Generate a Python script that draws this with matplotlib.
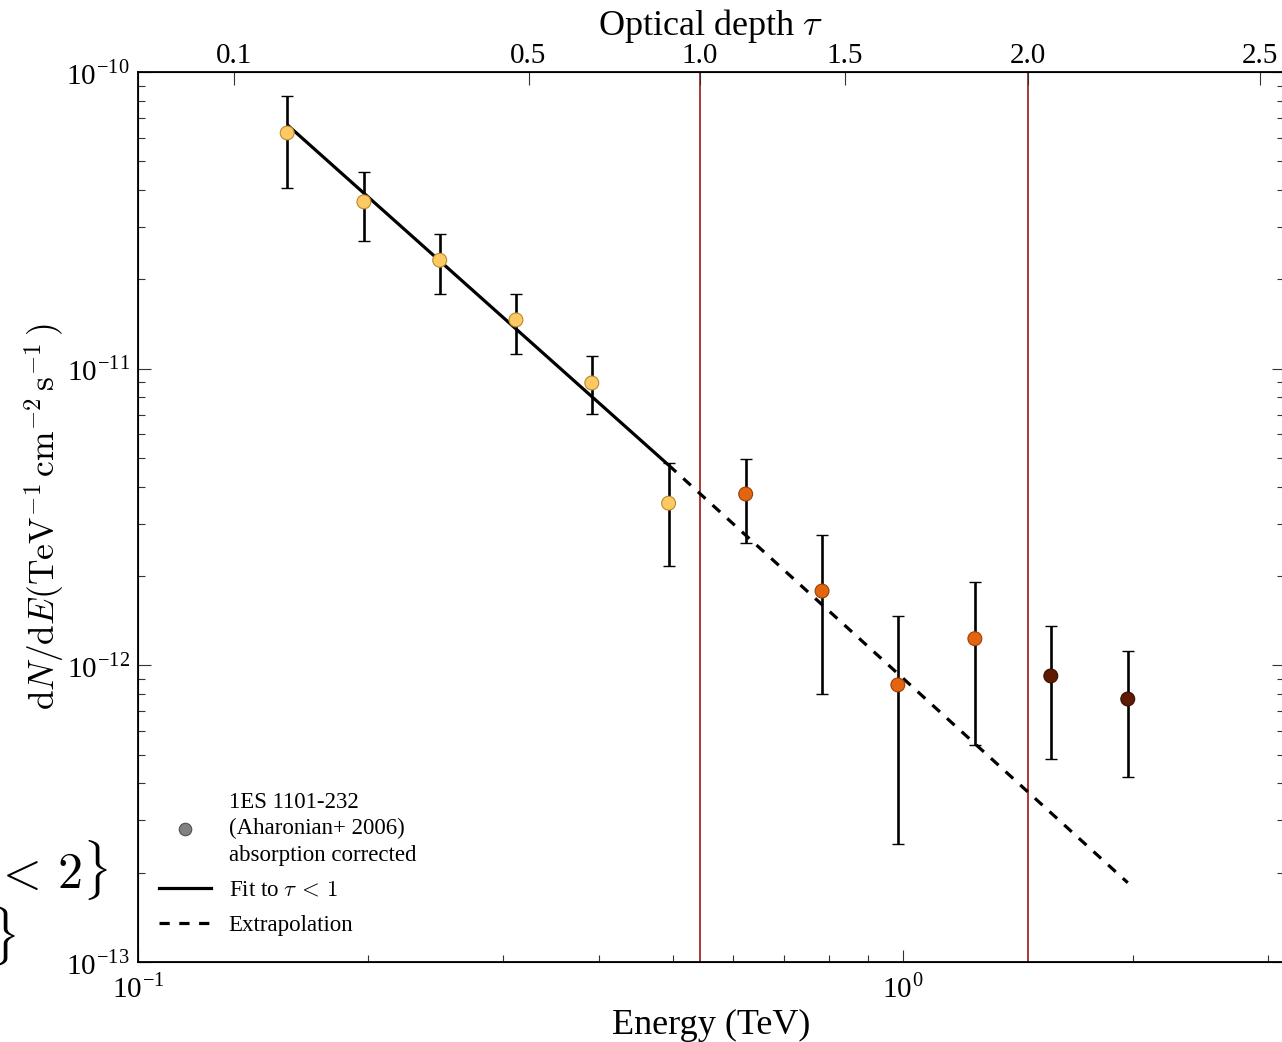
import numpy as np
import matplotlib
matplotlib.use("Agg")
import matplotlib.pyplot as plt
from matplotlib.lines import Line2D
from matplotlib.ticker import FixedLocator, NullLocator, LogLocator, FuncFormatter

plt.rcParams['font.family'] = 'serif'
plt.rcParams['font.serif'] = ['Liberation Serif', 'DejaVu Serif']
plt.rcParams['mathtext.fontset'] = 'cm'

# ---- data ----
energy = [0.1567, 0.1974, 0.248, 0.312, 0.392, 0.494,
          0.623, 0.784, 0.985, 1.242, 1.561, 1.968]
flux = [6.23e-11, 3.65e-11, 2.32e-11, 1.46e-11, 8.95e-12, 3.52e-12,
        3.78e-12, 1.78e-12, 8.59e-13, 1.23e-12, 9.21e-13, 7.70e-13]
flux_hi = [8.30e-11, 4.60e-11, 2.84e-11, 1.79e-11, 1.10e-11, 4.81e-12,
           4.96e-12, 2.75e-12, 1.47e-12, 1.91e-12, 1.36e-12, 1.12e-12]
flux_lo = [4.06e-11, 2.69e-11, 1.79e-11, 1.12e-11, 7.03e-12, 2.16e-12,
           2.59e-12, 8.02e-13, 2.50e-13, 5.40e-13, 4.84e-13, 4.21e-13]

fit_energy = [0.1567, 0.494]
fit_flux = [6.64e-11, 4.73e-12]
extrap_energy = [0.494, 1.968]
extrap_flux = [4.73e-12, 1.85e-13]

tau_ticks = [0.1, 0.5, 1.0, 1.5, 2.0, 2.5]
tau_tick_energy = [0.1335, 0.324, 0.543, 0.840, 1.457, 2.93]
tau_lines = [1.0, 2.0]

legend_labels = ["1ES 1101-232\n(Aharonian+ 2006)\nabsorption corrected",
                 r"Fit to $\tau\,<\,1$", "Extrapolation"]

# ---- figure ----
W, H = 1282, 1042
fig = plt.figure(figsize=(W / 100, H / 100), dpi=100)
left, right, bottom, top = 138, 1283.5, 962, 72
ax = fig.add_axes([left / W, 1 - bottom / H, (right - left) / W, (bottom - top) / H])
ax.set_xscale('log')
ax.set_yscale('log')
ax.set_xlim(0.1, 3.145)
ax.set_ylim(1e-13, 1e-10)

E = np.array(energy)
F = np.array(flux)
yerr = np.vstack([F - np.array(flux_lo), np.array(flux_hi) - F])

e_tau1 = tau_tick_energy[tau_ticks.index(tau_lines[0])]
e_tau2 = tau_tick_energy[tau_ticks.index(tau_lines[1])]
face = []
edge = []
for e in E:
    if e < e_tau1:
        face.append('#FDC962'); edge.append('#B8892E')
    elif e < e_tau2:
        face.append('#E3650F'); edge.append('#9A3F05')
    else:
        face.append('#5E1A02'); edge.append('#3A0E00')

ax.errorbar(E, F, yerr=yerr, fmt='none', ecolor='black', elinewidth=1.9,
            capsize=4, capthick=1.0, zorder=3)
ax.scatter(E, F, s=100, c=face, edgecolors=edge, linewidths=0.8, zorder=4)

ax.plot(fit_energy, fit_flux, color='black', lw=2.3, zorder=2, solid_capstyle='butt')
ax.plot(extrap_energy, extrap_flux, color='black', lw=2.3, zorder=2,
        linestyle=(0, (3.2, 3.0)))

for t in tau_lines:
    ax.axvline(tau_tick_energy[tau_ticks.index(t)], color='#990000', lw=1.1, zorder=1)

# ticks
def fmt(v, pos):
    ex = int(round(np.log10(v)))
    return r'10$^{\mathregular{%d}}$' % ex

ax.xaxis.set_major_locator(LogLocator(base=10))
ax.xaxis.set_minor_locator(LogLocator(base=10, subs=np.arange(2, 10)))
ax.yaxis.set_major_locator(LogLocator(base=10))
ax.yaxis.set_minor_locator(LogLocator(base=10, subs=np.arange(2, 10)))
ax.xaxis.set_major_formatter(FuncFormatter(fmt))
ax.yaxis.set_major_formatter(FuncFormatter(fmt))
ax.xaxis.set_minor_formatter(FuncFormatter(lambda v, p: ''))
ax.yaxis.set_minor_formatter(FuncFormatter(lambda v, p: ''))
ax.tick_params(which='both', direction='in', top=False, right=True, labelsize=21,
               width=0.8, color='#333333')
ax.tick_params(which='major', length=9)
ax.tick_params(which='minor', length=5)
ax.tick_params(axis='x', pad=8)
ax.tick_params(axis='y', pad=6)
for s in ax.spines.values():
    s.set_linewidth(1.3)

ax.set_xlabel('Energy (TeV)', fontsize=26, labelpad=4)
ax.set_ylabel(r'$\mathrm{d}N/\mathrm{d}E(\mathrm{TeV}^{-1}\,\mathrm{cm}^{-2}\,\mathrm{s}^{-1}\,)$',
              fontsize=25.5, labelpad=0)

# top axis: optical depth
ax2 = ax.twiny()
ax2.set_xscale('log')
ax2.set_xlim(ax.get_xlim())
ax2.xaxis.set_major_locator(FixedLocator(tau_tick_energy))
ax2.xaxis.set_minor_locator(NullLocator())
ax2.set_xticklabels(['%.1f' % t for t in tau_ticks])
ax2.tick_params(axis='x', direction='in', length=9, width=0.8, labelsize=21, pad=2,
                color='#333333')
ax2.set_xlabel(r'Optical depth $\tau$', fontsize=26, labelpad=6)

# legend
handles = [
    Line2D([], [], marker='o', linestyle='none', markersize=9,
           markerfacecolor='#808080', markeredgecolor='#505050', markeredgewidth=0.8),
    Line2D([], [], color='black', lw=2.3),
    Line2D([], [], color='black', lw=2.3, linestyle=(0, (3.2, 3.0))),
]
leg = ax.legend(handles, legend_labels, loc='lower left', bbox_to_anchor=(-0.005, 0.0),
                frameon=False, fontsize=16.5,
                handlelength=2.3, handletextpad=0.75, labelspacing=0.6,
                borderaxespad=0.75, borderpad=0.4)
for t in leg.get_texts():
    t.set_linespacing(1.35)

# stray text fragments at left edge
fig.text(108 / W, 1 - 889 / H, r'$<\,2\}$', ha='right', va='baseline', fontsize=36)
fig.text(16 / W, 1 - 955 / H, r'$\}$', ha='right', va='baseline', fontsize=36)

fig.savefig('out.png', dpi=100)
